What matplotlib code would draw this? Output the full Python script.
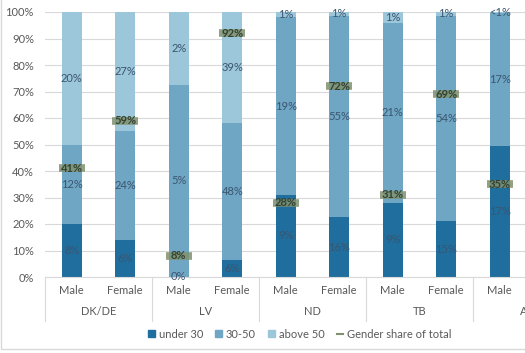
import matplotlib
matplotlib.use('Agg')
import matplotlib.pyplot as plt
import matplotlib.patches as mpatches
from matplotlib.lines import Line2D
import matplotlib.transforms as mtrans
import numpy as np

plt.rcParams['font.family'] = ['Lato', 'DejaVu Sans']

# categories (the last group is cut off on the right in the reference)
groups = ['DK/DE', 'LV', 'ND', 'TB', 'AT']
genders = ['Male', 'Female'] * len(groups)

# segment heights, % of each bar
under30 = [20, 14, 0, 6.5, 31, 22.6, 28, 21, 49.5]
mid3050 = [30, 41, 72.5, 51.5, 67, 76, 68, 77.5, 50.3]
above50 = [50, 45, 27.5, 42, 2, 1.4, 4, 1.5, 0.2]

# printed labels (share of total)
lab_under = ['8%', '6%', '0%', '6%', '9%', '16%', '9%', '15%', '17%']
lab_mid = ['12%', '24%', '5%', '48%', '19%', '55%', '21%', '54%', '17%']
lab_above = ['20%', '27%', '2%', '39%', '1%', '1%', '1%', '1%', '<1%']

gender_share = [41, 59, 8, 92, 28, 72, 31, 69, 35]

c_under = '#1f6e9e'
c_mid = '#6fa6c4'
c_above = '#9cc6d9'
c_share = '#7f9070'
c_lab = '#3b5570'
c_grey = '#595959'

fig = plt.figure(figsize=(5.25, 3.53), dpi=100)
ax = fig.add_axes([45/525, 76/353, 535/525, 265/353])

x = np.arange(len(under30))
w = 0.37
u = np.array(under30)
m = np.array(mid3050)
a = np.array(above50)
ax.bar(x, u, w, color=c_under, zorder=2)
ax.bar(x, m, w, bottom=u, color=c_mid, zorder=2)
ax.bar(x, a, w, bottom=u + m, color=c_above, zorder=2)

fs = 8
for i in range(len(x)):
    ax.text(x[i], u[i] / 2, lab_under[i], ha='center', va='center', fontsize=fs, color=c_lab, zorder=4)
    ax.text(x[i], u[i] + m[i] / 2, lab_mid[i], ha='center', va='center', fontsize=fs, color=c_lab, zorder=4)
    ax.text(x[i], u[i] + m[i] + a[i] / 2, lab_above[i], ha='center', va='center', fontsize=fs, color=c_lab, zorder=4)

ax.plot(x, gender_share, linestyle='None', marker='_', markersize=19, mew=5.5,
        color=c_share, alpha=0.85, zorder=3)
for i in range(len(x)):
    ax.text(x[i], gender_share[i], '%d%%' % gender_share[i], ha='center', va='center',
            fontsize=fs, fontweight='bold', color='#34432f', zorder=5)

ax.set_xlim(-0.5, len(genders) - 0.5)
ax.set_ylim(0, 100)
ax.set_yticks(range(0, 101, 10))
ax.set_yticklabels(['%d%%' % v for v in range(0, 101, 10)], fontsize=fs, color=c_grey)
ax.yaxis.grid(True, color='#d9d9d9', lw=0.8, zorder=0)
ax.tick_params(axis='y', length=0, pad=8)
ax.tick_params(axis='x', length=0)
ax.set_xticks([])
for s in ['top', 'right', 'left']:
    ax.spines[s].set_visible(False)
ax.spines['bottom'].set_color('#d9d9d9')
ax.spines['bottom'].set_linewidth(0.8)

tr = mtrans.blended_transform_factory(ax.transData, ax.transAxes)
for i, g in enumerate(genders):
    ax.text(i, -0.05, g, transform=tr, ha='center', va='center', fontsize=fs, color=c_grey)
for j, g in enumerate(groups):
    ax.text(2 * j + 0.5, -0.13, g, transform=tr, ha='center', va='center', fontsize=fs, color=c_grey)
    ax.plot([2 * j - 0.5] * 2, [0, -0.165], transform=tr, color='#d9d9d9', lw=0.8, clip_on=False)

handles = [mpatches.Patch(color=c_under), mpatches.Patch(color=c_mid), mpatches.Patch(color=c_above),
           Line2D([], [], color=c_share, lw=1.5)]
labels = ['under 30', '30-50', 'above 50', 'Gender share of total']
fig.legend(handles, labels, loc='center', bbox_to_anchor=(300/525, 1 - 334/353), ncol=4,
           frameon=False, fontsize=fs, labelcolor=c_grey, handlelength=0.6, handleheight=0.6,
           handletextpad=0.35, columnspacing=1.1)

fig.patches.append(mpatches.Rectangle((1/525, 1 - 349/353), 1.2, 1.2, transform=fig.transFigure,
                                      fill=False, edgecolor='#d9d9d9', lw=1))

fig.savefig('out.png', dpi=100)
